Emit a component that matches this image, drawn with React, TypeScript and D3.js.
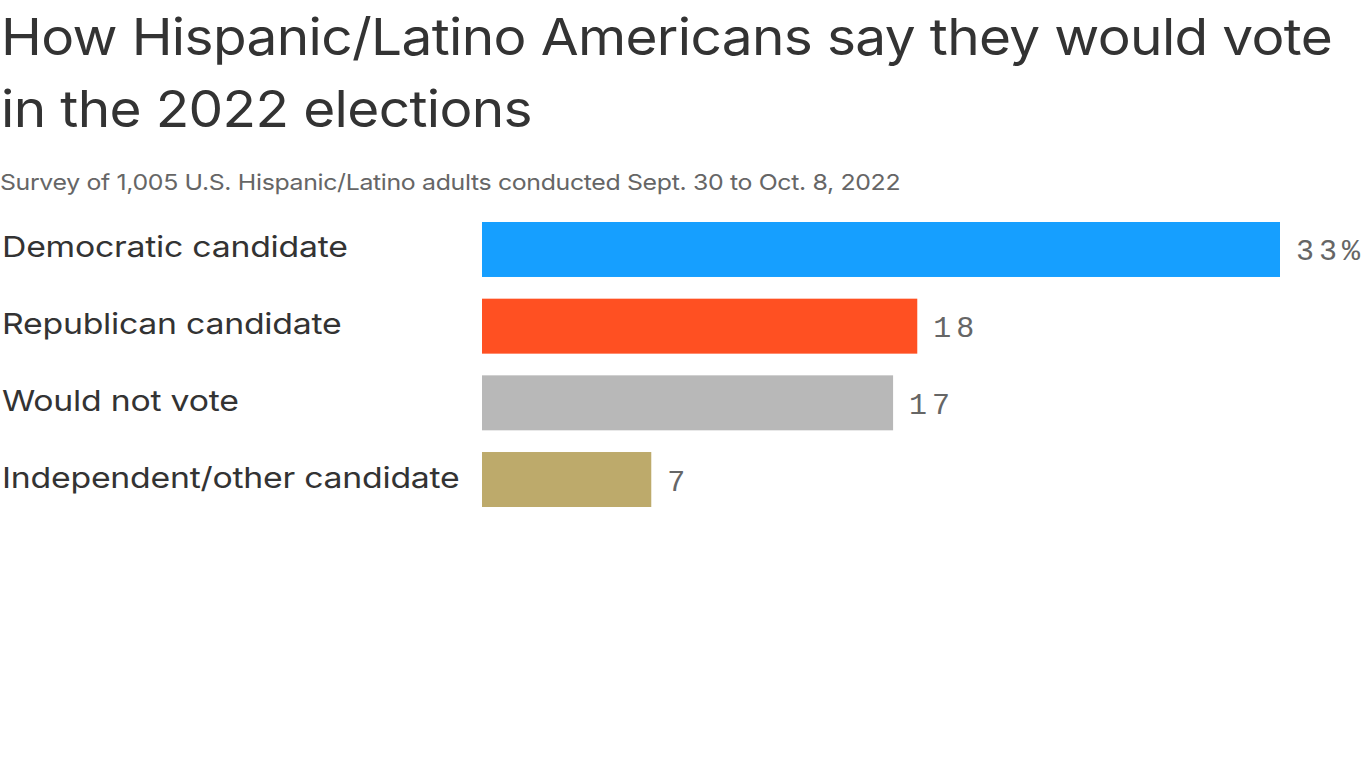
import React from "react";
import * as d3 from "d3";

const categories = ["Democratic candidate", "Republican candidate", "Would not vote", "Independent/other candidate"];
const values = [33, 18, 17, 7];
const valueLabels = ["33%", "18", "17", "7"];
const colors = ["#169fff", "#ff5022", "#b8b8b8", "#bdaa6b"];
const titleLines = ["How Hispanic/Latino Americans say they would vote", "in the 2022 elections"];
const subtitle = "Survey of 1,005 U.S. Hispanic/Latino adults conducted Sept. 30 to Oct. 8, 2022";

const W = 1366;
const H = 768;

export default function App() {
  const x = d3.scaleLinear().domain([0, 33]).range([482, 1280]);
  const y = d3.scaleBand<string>().domain(categories).range([222, 507]).paddingInner(0.283).paddingOuter(0);
  const sans = "Inter, 'Noto Sans', sans-serif";
  const mono = "'Liberation Mono', 'DejaVu Sans Mono', monospace";
  return (
    <svg width={W} height={H} style={{ position: "absolute", left: 0, top: 0, background: "#fff" }}>
      {titleLines.map((t, i) => (
        <text
          key={t}
          transform={`translate(1,${55 + i * 72}) scale(1.078,1)`}
          fontFamily={sans}
          fontSize={51}
          fill="#333"
          letterSpacing={-0.6}
        >
          {t}
        </text>
      ))}
      <text transform="translate(0,190) scale(1.13,1)" fontFamily={sans} fontSize={22} fill="#666" letterSpacing={-0.3}>
        {subtitle}
      </text>
      {categories.map((c, i) => {
        const by = y(c)!;
        const bh = y.bandwidth();
        return (
          <g key={c}>
            <text
              transform={`translate(2,${by + bh / 2 + 8}) scale(1.165,1)`}
              fontFamily={sans}
              fontSize={29}
              fill="#333"
              letterSpacing={-0.2}
            >
              {c}
            </text>
            <rect x={x(0)} y={by} width={x(values[i]) - x(0)} height={bh} fill={colors[i]} />
            <text x={x(values[i]) + 16} y={by + bh / 2 + 11} fontFamily={mono} fontSize={30} fill="#666" letterSpacing={5}>
              {valueLabels[i]}
            </text>
          </g>
        );
      })}
    </svg>
  );
}
